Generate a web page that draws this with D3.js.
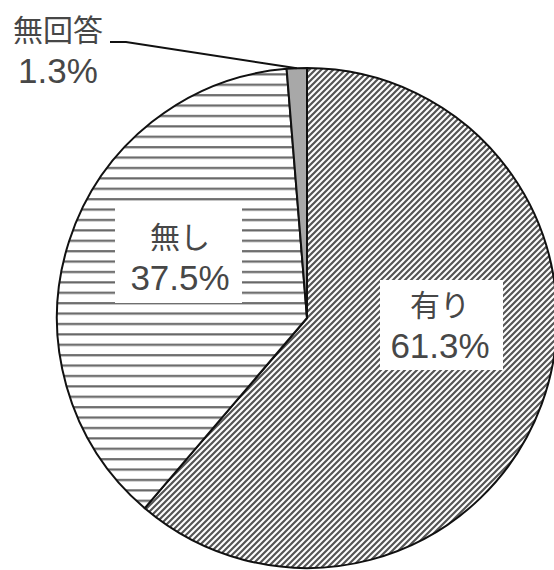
<!DOCTYPE html>
<html>
<head>
<meta charset="utf-8">
<script src="https://cdn.jsdelivr.net/npm/d3@7"></script>
<style>
body { margin: 0; background: #fff; }
svg text { fill: #474747; }
.cat { font-family: "Noto Sans CJK JP", "Noto Sans", sans-serif; font-size: 30px; }
.pct { font-family: "Liberation Sans", Arial, sans-serif; font-size: 35px; }
</style>
</head>
<body>
<div id="chart"></div>
<script>
// answer categories and their shares (%), clockwise from 12 o'clock
let categories = ['有り', '無し', '無回答'];
let values = [61.3, 37.5, 1.3];
let labels = ['61.3%', '37.5%', '1.3%'];

let width = 554, height = 570;
let cx = 307, cy = 318, radius = 250;

let svg = d3.select('#chart').append('svg').attr('width', width).attr('height', height);
let defs = svg.append('defs');

// diagonal hatch for 有り
let diag = defs.append('pattern').attr('id', 'diag').attr('patternUnits', 'userSpaceOnUse')
    .attr('width', 6).attr('height', 6);
diag.append('rect').attr('width', 6).attr('height', 6).attr('fill', '#fff');
diag.append('path').attr('d', 'M-1.5,1.5 L1.5,-1.5 M0,6 L6,0 M4.5,7.5 L7.5,4.5')
    .attr('stroke', '#555').attr('stroke-width', 2.2);

// horizontal lines for 無し
let horiz = defs.append('pattern').attr('id', 'horiz').attr('patternUnits', 'userSpaceOnUse')
    .attr('width', 8).attr('height', 10.4).attr('y', 1);
horiz.append('rect').attr('width', 8).attr('height', 10.4).attr('fill', '#fff');
horiz.append('line').attr('x1', 0).attr('x2', 8).attr('y1', 5).attr('y2', 5)
    .attr('stroke', '#666').attr('stroke-width', 2.2);

let fills = ['url(#diag)', 'url(#horiz)', '#a8a8a8'];

let pie = d3.pie().sort(null).value(d => d);
let arc = d3.arc().innerRadius(0).outerRadius(radius);
let arcs = pie(values);

let g = svg.append('g').attr('transform', 'translate(' + cx + ',' + cy + ')');
g.selectAll('path.slice').data(arcs).enter().append('path')
    .attr('class', 'slice')
    .attr('d', arc)
    .attr('fill', (d, i) => fills[i])
    .attr('stroke', '#111').attr('stroke-width', 2).attr('stroke-linejoin', 'round');

// labels: white box, category on the first line, percentage below
let labelPos = [{x: 440, catY: 316, pctY: 358}, {x: 180, catY: 248, pctY: 290}, {x: 58, catY: 41, pctY: 83}];
let boxes = [{x0: 380, y0: 280, x1: 503, y1: 370}, {x0: 115, y0: 205, x1: 242, y1: 303}, null];
categories.forEach((c, i) => {
    let p = labelPos[i];
    let lg = svg.append('g');
    if (boxes[i]) {
        let b = boxes[i];
        lg.append('rect').attr('x', b.x0).attr('y', b.y0)
            .attr('width', b.x1 - b.x0).attr('height', b.y1 - b.y0).attr('fill', '#fff');
    }
    lg.append('text').attr('class', 'cat').attr('text-anchor', 'middle')
        .attr('x', p.x).attr('y', p.catY).text(c);
    lg.append('text').attr('class', 'pct').attr('text-anchor', 'middle')
        .attr('x', p.x).attr('y', p.pctY).text(labels[i]);
});

// leader line for 無回答
let small = arcs[2];
let edgeAngle = (small.startAngle + small.endAngle) / 2;
let ex = cx + radius * Math.sin(edgeAngle), ey = cy - radius * Math.cos(edgeAngle);
svg.append('path')
    .attr('d', 'M110,42 L126,42 L' + ex + ',' + ey)
    .attr('fill', 'none').attr('stroke', '#111').attr('stroke-width', 2);
</script>
</body>
</html>
